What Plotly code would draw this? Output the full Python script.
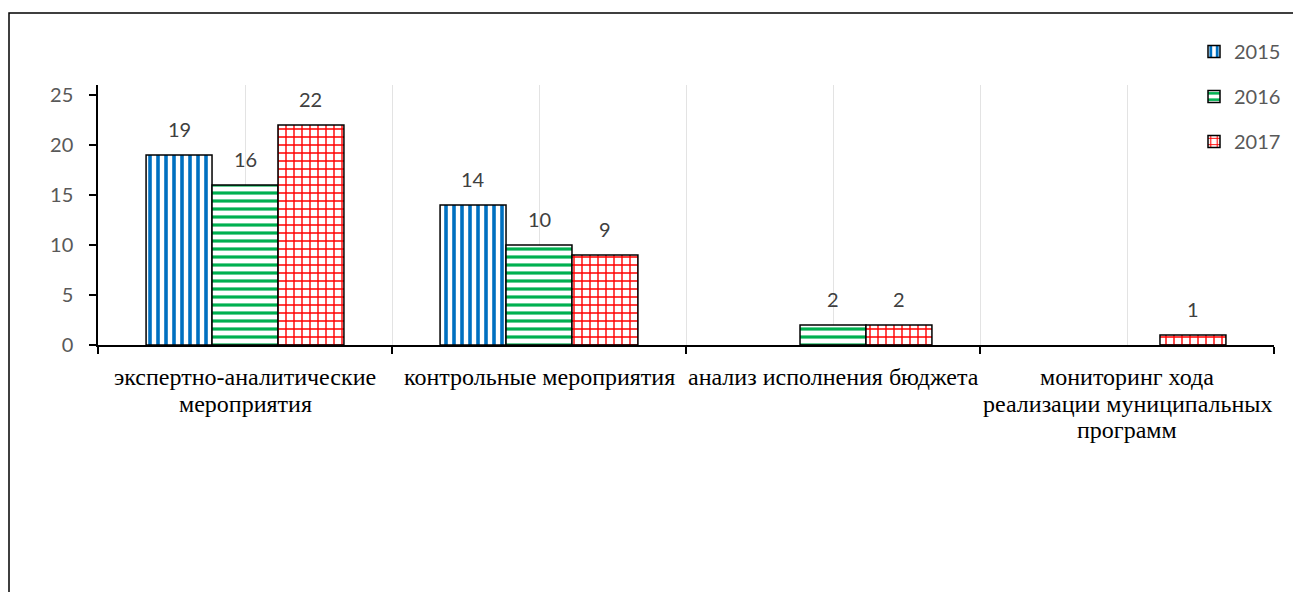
import plotly.graph_objects as go

# ---- data ----
categories = [
    "экспертно-аналитические<br>мероприятия",
    "контрольные мероприятия",
    "анализ исполнения бюджета",
    "мониторинг хода<br>реализации муниципальных<br>программ",
]
years = ["2015", "2016", "2017"]
values_2015 = [19, 14, None, None]
values_2016 = [16, 10, 2, None]
values_2017 = [22, 9, 2, 1]
y_tick_values = [0, 5, 10, 15, 20, 25]

# ---- styles ----
series = [
    (years[0], values_2015, dict(shape="|", fgcolor="#0070C0", bgcolor="white", size=8, solidity=0.45, fgopacity=1)),
    (years[1], values_2016, dict(shape="-", fgcolor="#00B050", bgcolor="white", size=8, solidity=0.4, fgopacity=1)),
    (years[2], values_2017, dict(shape="+", fgcolor="#FF0000", bgcolor="white", size=8, solidity=0.32, fgopacity=1)),
]

W, H = 1293, 592
ML, MT = 98, 85
MR = W - 1274
MB = H - 345
PW, PH = W - ML - MR, H - MT - MB
BARGAP = 0.327
SANS = "Lato"
SERIF = "Liberation Serif, 'Times New Roman', serif"
LABEL_LINE = 26.7

x_pos = list(range(len(categories)))

fig = go.Figure()
for k, (name, vals, pat) in enumerate(series):
    fig.add_trace(go.Bar(
        x=x_pos, y=vals, name=name, legendgroup=name,
        marker=dict(color="white", pattern=pat, line=dict(color="black", width=1.5)),
        hoverinfo="skip",
    ))

annotations = []
# data labels
bw = (1 - BARGAP) / len(series)
for k, (name, vals, pat) in enumerate(series):
    for i, v in enumerate(vals):
        if v is None:
            continue
        annotations.append(dict(
            x=i + (k - (len(series) - 1) / 2) * bw, y=v, xref="x", yref="y",
            text=str(v), showarrow=False, yanchor="middle", yshift=26.5,
            font=dict(family=SANS, size=20, color="#404040"),
        ))
# category labels (one annotation per line to keep the tight line spacing)
for i, cat in enumerate(categories):
    for j, line in enumerate(cat.split("<br>")):
        annotations.append(dict(
            x=i, y=0, xref="x", yref="y",
            text=line, showarrow=False, yanchor="middle",
            yshift=-32 - j * LABEL_LINE,
            font=dict(family=SERIF, size=24, color="black"),
        ))

fig.update_layout(
    width=W, height=H,
    margin=dict(l=ML, r=MR, t=MT, b=MB, autoexpand=False),
    paper_bgcolor="white", plot_bgcolor="white",
    barmode="group", bargap=BARGAP, bargroupgap=0,
    annotations=annotations,
    showlegend=True,
    legend=dict(
        x=(1286 - ML) / PW, xanchor="right", y=1 + (MT - 32) / PH, yanchor="top",
        font=dict(family=SANS, size=20, color="#595959"),
        traceorder="grouped", tracegroupgap=16, itemwidth=30,
        bgcolor="rgba(0,0,0,0)",
    ),
    shapes=[dict(
        type="rect", xref="paper", yref="paper",
        x0=(9 - ML) / PW, x1=(W + 50 - ML) / PW,
        y0=-(H + 50 - MT - PH) / PH, y1=1 + (MT - 13) / PH,
        line=dict(color="black", width=1.5), layer="below",
    )],
)

fig.update_xaxes(
    type="linear", range=[-0.5, len(categories) - 0.5],
    tickvals=x_pos, ticks="", showticklabels=False,
    showgrid=True, gridcolor="#E3E3E3", gridwidth=1,
    showline=True, linecolor="black", linewidth=1.5,
    zeroline=False,
    minor=dict(tick0=-0.5, dtick=1, ticks="outside", ticklen=7, tickcolor="black", tickwidth=1.5,
               showgrid=True, gridcolor="#E3E3E3", gridwidth=1),
)
fig.update_yaxes(
    range=[0, 26], tickvals=y_tick_values,
    ticks="outside", ticklen=7, tickcolor="black", tickwidth=1.5,
    tickfont=dict(family=SANS, size=20, color="#595959"),
    showgrid=False, zeroline=False,
    showline=True, linecolor="black", linewidth=1.5,
    ticklabelstandoff=12,
)

fig.write_html(
    "out.html",
    config={"displayModeBar": False},
    post_script="document.body.style.margin='0';document.body.style.overflow='hidden';",
)
